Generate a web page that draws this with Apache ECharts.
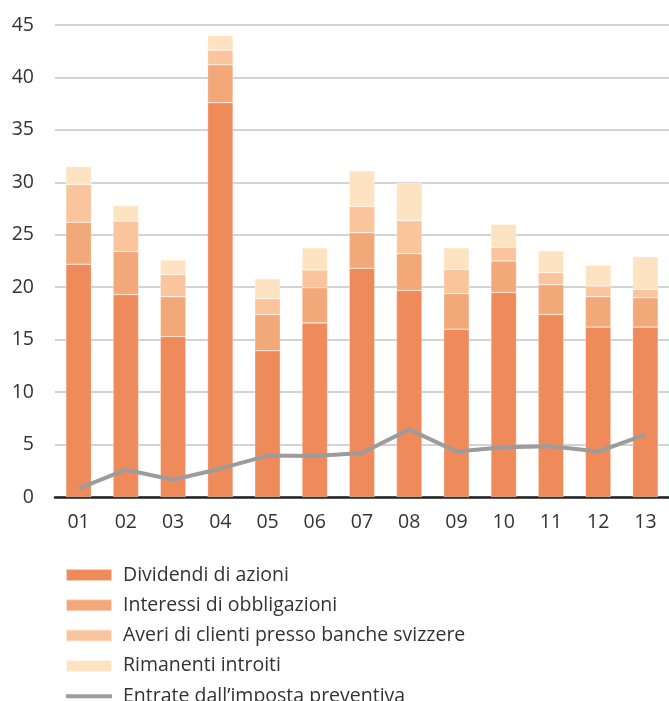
<!DOCTYPE html>
<html>
<head>
<meta charset="utf-8">
<script src="https://cdn.jsdelivr.net/npm/echarts@6/dist/echarts.min.js"></script>
<style>
  html, body { margin: 0; padding: 0; background: #fff; }
  #chart { width: 669px; height: 701px; }
</style>
</head>
<body>
<div id="chart"></div>
<script>
var categories = ['01', '02', '03', '04', '05', '06', '07', '08', '09', '10', '11', '12', '13']
var dividendi = [22.2, 19.3, 15.3, 37.6, 13.95, 16.6, 21.8, 19.7, 16.0, 19.5, 17.4, 16.2, 16.2]
var interessi = [4.0, 4.1, 3.8, 3.6, 3.45, 3.35, 3.4, 3.5, 3.4, 3.0, 2.85, 2.9, 2.8]
var averi = [3.6, 2.9, 2.1, 1.4, 1.5, 1.7, 2.5, 3.15, 2.3, 1.3, 1.15, 1.0, 0.8]
var rimanenti = [1.7, 1.5, 1.4, 1.4, 1.9, 2.1, 3.4, 3.6, 2.05, 2.2, 2.05, 2.0, 3.1]
var imposta = [0.8, 2.6, 1.65, 2.7, 3.95, 3.92, 4.2, 6.45, 4.33, 4.75, 4.84, 4.33, 5.95]
var yTicks = [0, 5, 10, 15, 20, 25, 30, 35, 40, 45]

var font = '"Open Sans", "DejaVu Sans", sans-serif'
var chart = echarts.init(document.getElementById('chart'))

function bar(name, data, color) {
  return {
    name: name,
    type: 'bar',
    stack: 'tot',
    barWidth: '54%',
    data: data,
    itemStyle: { color: color, borderColor: 'rgba(255,255,255,0.6)', borderWidth: 0.5 }
  }
}

chart.setOption({
  animation: false,
  grid: { left: 55, right: -8, top: 25, bottom: 204 },
  legend: {
    orient: 'vertical',
    left: 65,
    top: 565,
    height: 300,
    padding: 0,
    itemWidth: 46,
    itemHeight: 12,
    itemGap: 10.3,
    textStyle: { fontFamily: font, fontSize: 19.5, color: '#333', padding: [0, 0, 0, 6] },
    data: [
      { name: 'Dividendi di azioni', icon: 'rect' },
      { name: 'Interessi di obbligazioni', icon: 'rect' },
      { name: 'Averi di clienti presso banche svizzere', icon: 'rect' },
      { name: 'Rimanenti introiti', icon: 'rect' },
      { name: 'Entrate dall\u2019imposta preventiva', icon: 'path://M0,0H46V4H0Z' }
    ]
  },
  xAxis: {
    type: 'category',
    data: categories,
    axisLine: { lineStyle: { color: '#222', width: 2.5 } },
    axisTick: { show: false },
    axisLabel: { fontFamily: font, fontSize: 19.5, color: '#333', margin: 15 }
  },
  yAxis: {
    type: 'value',
    min: yTicks[0],
    max: yTicks[yTicks.length - 1],
    interval: 5,
    axisLine: { show: false },
    axisTick: { show: false },
    splitLine: { lineStyle: { color: '#c4c4c4', width: 1.5 } },
    axisLabel: { fontFamily: font, fontSize: 19.5, color: '#333', margin: 21 }
  },
  series: [
    bar('Dividendi di azioni', dividendi, '#ef8b5a'),
    bar('Interessi di obbligazioni', interessi, '#f2a878'),
    bar('Averi di clienti presso banche svizzere', averi, '#fac59d'),
    bar('Rimanenti introiti', rimanenti, '#fde3c1'),
    {
      name: 'Entrate dall\u2019imposta preventiva',
      type: 'line',
      data: imposta,
      symbol: 'none',
      z: 5,
      lineStyle: { color: '#9c9c9c', width: 4 },
      itemStyle: { color: '#9c9c9c' }
    }
  ]
})
</script>
</body>
</html>
